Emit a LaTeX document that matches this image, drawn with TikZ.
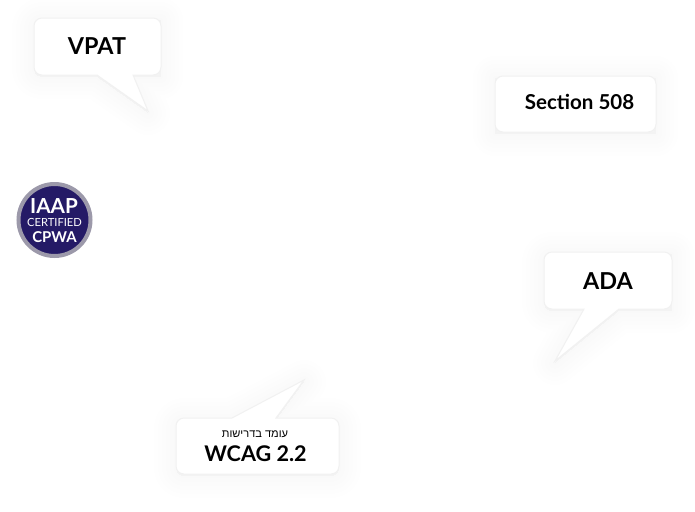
\documentclass[tikz,border=0pt]{standalone}
\usepackage{fontspec}
\setmainfont{Lato}
\newfontfamily\hebfont[Script=Hebrew]{Liberation Sans}
\TeXXeTstate=1
\definecolor{badgeblue}{HTML}{241A66}
\definecolor{badgering}{HTML}{9C99AA}
\definecolor{bubbleline}{HTML}{F1F1F1}
\tikzset{
  bubble/.style={fill=white,draw=bubbleline,line width=.75pt,rounded corners=6pt},
  softshade/.style={draw=black,fill=black,line join=round,opacity=.004,yshift=-1.5pt},
  bubbletext/.style={text=black,font=\bfseries,inner sep=0pt,anchor=base},
  badgetext/.style={text=white,inner sep=0pt,anchor=base},
}
% one bubble: path, then its soft shadow underneath
\newcommand{\bubblepath}[1]{
  \foreach \w in {3,9,15,21,27,33}
    \draw[softshade,line width=\w pt] #1;
  \draw[bubble] #1;
}
\begin{document}
\begin{tikzpicture}[x=.75pt,y=-.75pt]
  \useasboundingbox (0,0) rectangle (695,511);
  \fill[white] (0,0) rectangle (695,511);

  % VPAT
  \bubblepath{(34,18) -- (161,18) -- (161,75) [sharp corners] -- (133,75) -- (148,111) -- (97,75) [rounded corners=6pt] -- (34,75) -- cycle}
  \node[bubbletext,font=\bfseries\fontsize{17.5}{20}\selectfont] (vpat) at (97,54) {VPAT};

  % Section 508
  \bubblepath{(495,76) -- (656,76) -- (656,132) -- (495,132) -- cycle}
  \node[bubbletext,font=\bfseries\fontsize{15.4}{18}\selectfont] (section) at (579.5,109.5) {Section 508};

  % ADA
  \bubblepath{(544,252) -- (672,252) -- (672,309) [sharp corners] -- (619,309) -- (555,361) -- (584,309) [rounded corners=6pt] -- (544,309) -- cycle}
  \node[bubbletext,font=\bfseries\fontsize{17.5}{20}\selectfont] (ada) at (608,289) {ADA};

  % WCAG
  \bubblepath{(176,418) [sharp corners] -- (232,418) -- (304,380) -- (276,418) [rounded corners=6pt] -- (339,418) -- (339,474) -- (176,474) -- cycle}
  \node[text=black,inner sep=0pt,anchor=base,font=\hebfont\fontsize{8.3}{10}\selectfont] (meets) at (255,437) {\beginR עומד בדרישות\endR};
  \node[bubbletext,font=\bfseries\fontsize{16.2}{19}\selectfont] (wcag) at (255.5,461) {WCAG 2.2};

  % badge
  \node[circle,fill=badgeblue,draw=badgering,line width=3pt,minimum size=54pt,inner sep=0pt] (badge) at (54.5,220) {};
  \node[badgetext,font=\bfseries\fontsize{15.5}{18}\selectfont] (iaap) at (54,213) {IAAP};
  \node[badgetext,font=\fontsize{8.4}{10}\selectfont] (certified) at (54.5,226) {CERTIFIED};
  \node[badgetext,font=\bfseries\fontsize{11.2}{13}\selectfont] (cpwa) at (54.5,242) {CPWA};
\end{tikzpicture}
\end{document}
